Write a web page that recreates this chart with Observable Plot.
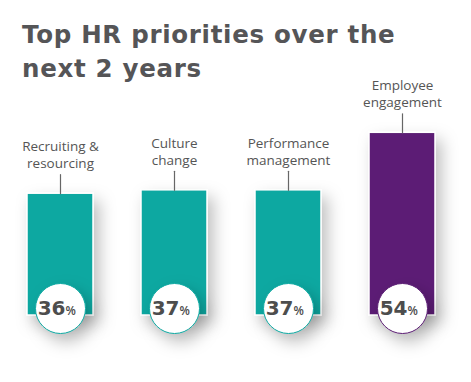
<!DOCTYPE html>
<html><head><meta charset="utf-8">
<script src="https://cdn.jsdelivr.net/npm/d3@7"></script>
<script src="https://cdn.jsdelivr.net/npm/@observablehq/plot@0.6"></script>
<style>
body{margin:0;background:#fff;width:471px;height:382px;overflow:hidden;}
#title{font-family:"DejaVu Sans";font-weight:bold;font-size:24.5px;letter-spacing:0.7px;line-height:34px;color:#555557;padding:18px 0 0 22px;height:80px;box-sizing:border-box;margin:0;white-space:nowrap}
#chart svg{overflow:visible;display:block}
</style></head><body>
<div id="title">Top HR priorities over the<br>next 2 years</div>
<div id="chart"></div>
<script>
const categories = ["Recruiting &\nresourcing", "Culture\nchange", "Performance\nmanagement", "Employee\nengagement"];
const values = [36, 37, 37, 54];
const colors = ["#10a8a1", "#10a8a1", "#10a8a1", "#5c1f74"];

const data = categories.map((c, i) => ({cat: c, value: values[i], color: colors[i]}));

const plot = Plot.plot({
  width: 471,
  height: 302,
  marginLeft: 0,
  marginRight: 10,
  marginTop: 32,
  marginBottom: 67,
  style: {fontFamily: "'Open Sans', sans-serif", background: "transparent"},
  x: {domain: categories, paddingInner: 0.425, paddingOuter: 0.218, axis: null},
  y: {domain: [0, 60], axis: null},
  color: {type: "identity"},
  marks: [
    Plot.barY(data, {x: "cat", y: "value", fill: "color", stroke: "white", strokeWidth: 1.5}),
    Plot.vector(data, {x: "cat", y: "value", length: 19, rotate: 0, anchor: "start", stroke: "#666", strokeWidth: 1.2,
      shape: {draw(context, l) { context.moveTo(0, 0); context.lineTo(0, -l); }}}),
    Plot.text(data, {x: "cat", y: "value", text: "cat", lineAnchor: "bottom", dy: -25.5, fontSize: 13.5, lineHeight: 1.28, fill: "#555"}),
    Plot.dot(data, {x: "cat", y: 0, dy: -7, r: 25, fill: "white", stroke: "color", strokeWidth: 1}),
    Plot.text(data, {x: "cat", y: 0, dy: -7, dx: 5, text: d => String(d.value), textAnchor: "end", fontSize: 20, fontWeight: "bold", fill: "#4d4d4d", fontFamily: "'DejaVu Sans'"}),
    Plot.text(data, {x: "cat", y: 0, dy: -4.8, dx: 5, text: () => "%", textAnchor: "start", fontSize: 12, fontWeight: "600", fill: "#4d4d4d"})
  ]
});

const svg = d3.select(plot);
const defs = svg.insert("defs", ":first-child");
const f = defs.append("filter").attr("id", "shadow").attr("x", "-50%").attr("y", "-50%").attr("width", "200%").attr("height", "200%");
f.append("feDropShadow").attr("dx", 6).attr("dy", 8).attr("stdDeviation", 8).attr("flood-color", "#000").attr("flood-opacity", 0.25);
svg.select('g[aria-label="bar"]').attr("filter", "url(#shadow)");
svg.select('g[aria-label="dot"]').attr("filter", "url(#shadow)");

document.getElementById("chart").append(plot);
</script>
</body></html>
